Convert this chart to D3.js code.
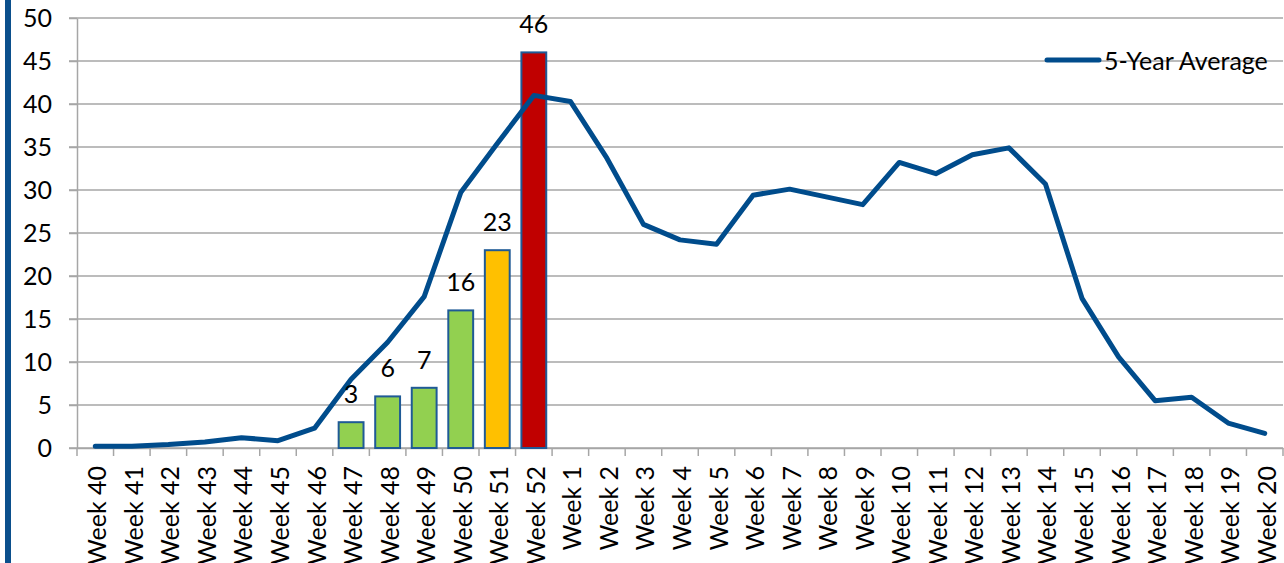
<!DOCTYPE html>
<html>
<head>
<meta charset="utf-8">
<script src="https://cdn.jsdelivr.net/npm/d3@7"></script>
<style>
  html, body { margin: 0; padding: 0; background: #fff; }
  svg { display: block; font-family: Lato, "Open Sans", sans-serif; }
</style>
</head>
<body>
<svg id="chart" width="1284" height="563"></svg>
<script>
// weekly counts vs 5-year average

const weeks = [
  "Week 40", "Week 41", "Week 42", "Week 43", "Week 44", "Week 45", "Week 46",
  "Week 47", "Week 48", "Week 49", "Week 50", "Week 51", "Week 52",
  "Week 1", "Week 2", "Week 3", "Week 4", "Week 5", "Week 6", "Week 7",
  "Week 8", "Week 9", "Week 10", "Week 11", "Week 12", "Week 13", "Week 14",
  "Week 15", "Week 16", "Week 17", "Week 18", "Week 19", "Week 20"
];

const fiveYearAvg = [
  0.2, 0.2, 0.4, 0.7, 1.2, 0.85, 2.3, 8.0, 12.3, 17.6, 29.7, 35.4, 41.0,
  40.3, 33.7, 26.0, 24.2, 23.7, 29.4, 30.1, 29.2, 28.3, 33.2, 31.9, 34.1,
  34.9, 30.7, 17.4, 10.6, 5.5, 5.9, 2.9, 1.7
];

const barWeeks = ["Week 47", "Week 48", "Week 49", "Week 50", "Week 51", "Week 52"];
const barValues = [3, 6, 7, 16, 23, 46];
const barColors = ["#92D050", "#92D050", "#92D050", "#92D050", "#FFC000", "#C00000"];

const yTicks = d3.range(0, 51, 5);

const svg = d3.select("#chart");
const width = 1284;
const height = 563;

// Layout
const plotLeft = 77, plotRight = 1283, plotTop = 18, plotBottom = 448;
const FONT_SIZE = 25;

const LINE_BLUE = "#004C8C";
const GRID = "#A6A6A6";

// left accent bar
svg.append("rect")
  .attr("x", 5).attr("y", 0)
  .attr("width", 6).attr("height", height)
  .attr("fill", "#0B4F8C");

const x = d3.scaleBand().domain(weeks).range([plotLeft, plotRight]).padding(0);
const y = d3.scaleLinear().domain([0, 50]).range([plotBottom, plotTop]);

// gridlines
svg.append("g")
  .selectAll("line")
  .data(yTicks)
  .join("line")
  .attr("x1", plotLeft - 8)
  .attr("x2", plotRight)
  .attr("y1", (d) => y(d))
  .attr("y2", (d) => y(d))
  .attr("stroke", GRID)
  .attr("stroke-width", 1.5);

// y axis
const yAxisG = svg.append("g").attr("transform", `translate(${plotLeft},0)`);
yAxisG.call(d3.axisLeft(y).tickValues(yTicks).tickSize(8).tickPadding(17).tickSizeOuter(0));
yAxisG.select(".domain").attr("stroke", GRID).attr("stroke-width", 1.5);
yAxisG.selectAll(".tick line").attr("stroke", GRID).attr("stroke-width", 1.5);
yAxisG.selectAll("text")
  .attr("font-family", "Lato, sans-serif")
  .attr("font-size", FONT_SIZE)
  .attr("fill", "#000");

// x axis (labels at band centres, ticks at band edges like Excel)
const xAxisG = svg.append("g").attr("transform", `translate(0,${plotBottom})`);
xAxisG.call(d3.axisBottom(x).tickSize(0).tickSizeOuter(0));
xAxisG.select(".domain").attr("stroke", GRID).attr("stroke-width", 1.5);
xAxisG.selectAll("text")
  .attr("font-family", "Lato, sans-serif")
  .attr("font-size", FONT_SIZE)
  .attr("fill", "#000")
  .attr("text-anchor", "end")
  .attr("dominant-baseline", "central")
  .attr("transform", "translate(1,18) rotate(-90)")
  .attr("x", 0)
  .attr("y", 0)
  .attr("dy", null);

const edges = weeks.map((w) => x(w)).concat([x(weeks[weeks.length - 1]) + x.bandwidth()]);
xAxisG.append("g")
  .selectAll("line")
  .data(edges)
  .join("line")
  .attr("x1", (d) => d)
  .attr("x2", (d) => d)
  .attr("y1", 0)
  .attr("y2", 8)
  .attr("stroke", GRID)
  .attr("stroke-width", 1.5);

// bars
const barData = barWeeks.map((w, i) => ({ week: w, value: barValues[i], color: barColors[i] }));
const barW = x.bandwidth() * 0.68;

svg.append("g")
  .selectAll("rect")
  .data(barData)
  .join("rect")
  .attr("x", (d) => x(d.week) + (x.bandwidth() - barW) / 2)
  .attr("y", (d) => y(d.value))
  .attr("width", barW)
  .attr("height", (d) => y(0) - y(d.value))
  .attr("fill", (d) => d.color)
  .attr("stroke", "#1F5A96")
  .attr("stroke-width", 2);

// 5-year average line
const line = d3.line()
  .x((d, i) => x(weeks[i]) + x.bandwidth() / 2)
  .y((d) => y(d));

svg.append("path")
  .datum(fiveYearAvg)
  .attr("d", line)
  .attr("fill", "none")
  .attr("stroke", LINE_BLUE)
  .attr("stroke-width", 5)
  .attr("stroke-linejoin", "round")
  .attr("stroke-linecap", "round");

// bar value labels
svg.append("g")
  .selectAll("text")
  .data(barData)
  .join("text")
  .attr("x", (d) => x(d.week) + x.bandwidth() / 2)
  .attr("y", (d) => y(d.value) - 19)
  .attr("text-anchor", "middle")
  .attr("font-size", FONT_SIZE)
  .attr("fill", "#000")
  .text((d) => d.value);

// legend
const legend = svg.append("g");
legend.append("line")
  .attr("x1", 1047).attr("x2", 1099)
  .attr("y1", 60).attr("y2", 60)
  .attr("stroke", LINE_BLUE)
  .attr("stroke-width", 5)
  .attr("stroke-linecap", "round");
legend.append("text")
  .attr("x", 1104)
  .attr("y", 60)
  .attr("dominant-baseline", "central")
  .attr("font-size", FONT_SIZE)
  .attr("fill", "#000")
  .text("5-Year Average");
</script>
</body>
</html>
